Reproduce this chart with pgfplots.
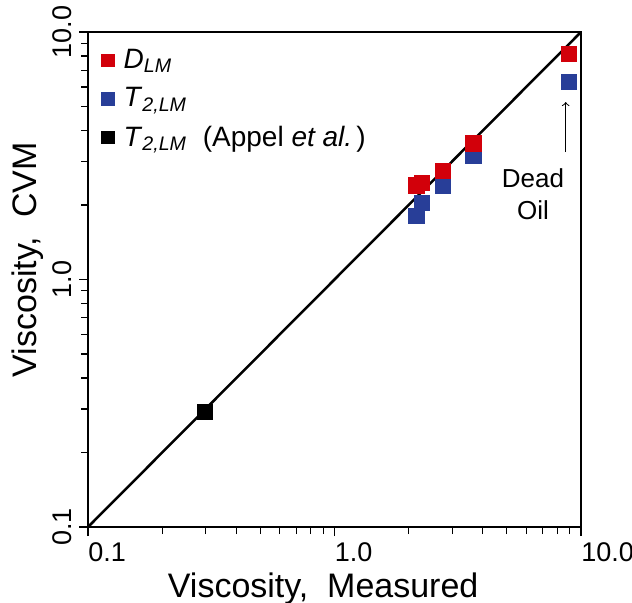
\documentclass[border=0pt]{standalone}
\usepackage{fontspec}
\setmainfont{Liberation Sans}
\usepackage{pgfplots}
\pgfplotsset{compat=1.18}
\definecolor{mred}{RGB}{210,0,10}
\definecolor{mblue}{RGB}{40,62,152}
\pgfplotsset{
  sqleg/.style={legend image code/.code={%
    \draw[##1, mark size=3.2pt] plot coordinates {(0.25cm,0cm)};
    \path (0cm,0cm) (0.45cm,0cm);}},
}
\begin{document}
\begin{tikzpicture}
\begin{axis}[
  xmode=log, ymode=log,
  xmin=0.1, xmax=10, ymin=0.1, ymax=10,
  width=246.5pt, height=247.5pt, scale only axis,
  axis line style={line width=1.1pt},
  xtick={0.1,1,10}, xticklabels={0.1,1.0,10.0},
  ytick={0.1,1,10}, yticklabels={0.1,1.0,10.0},
  xticklabel style={anchor=north west, xshift=-3.3pt},
  yticklabel style={rotate=90, anchor=south},
  tick pos=left, tick align=outside,
  tick style={black, line width=0.6pt},
  major tick length=4.5pt, minor tick length=3.5pt,
  ticklabel style={font=\fontsize{13.5}{16}\selectfont},
  xlabel={Viscosity,\ \ Measured}, ylabel={Viscosity,\ \ CVM},
  label style={font=\fontsize{17}{20}\selectfont},
  xlabel style={at={(axis description cs:0.477,-0.1414)}, anchor=base},
  ylabel style={at={(axis description cs:-0.1035,0.54)}, anchor=base},
  legend style={draw=none, fill=none, at={(axis description cs:0.010,0.982)}, anchor=north west,
    font=\fontsize{14}{17}\selectfont, row sep=4pt, inner xsep=0pt, inner ysep=2pt},
  legend cell align=left,
]
\coordinate (bl) at (rel axis cs:0,0);
\coordinate (tr) at (rel axis cs:1,1);
\addplot[black, line width=1.25pt, forget plot] coordinates {(0.1,0.1) (10,10)};
\addplot[only marks, mark=square*, mark size=3.8pt, mark options={draw=mred, fill=mred}, sqleg]
  coordinates {(2.15,2.40) (2.27,2.46) (2.75,2.75) (3.66,3.55) (8.94,8.15)};
\addlegendentry{\textit{D}\textsubscript{\textit{LM}}}
\addplot[only marks, mark=square*, mark size=3.8pt, mark options={draw=mblue, fill=mblue}, sqleg]
  coordinates {(2.15,1.81) (2.27,2.04) (2.75,2.39) (3.66,3.15) (8.94,6.30)};
\addlegendentry{\textit{T}\textsubscript{\textit{2,LM}}}
\addplot[only marks, mark=square*, mark size=3.8pt, mark options={draw=black, fill=black}, sqleg]
  coordinates {(0.299,0.292)};
\addlegendentry{\textit{T}\textsubscript{\textit{2,LM}}\hspace{4pt} (Appel \textit{et al.}\hspace{2pt})}
\addplot[only marks, mark=square*, mark size=3.8pt, mark options={draw=mred, fill=mred}, forget plot]
  coordinates {(2.15,2.40) (2.27,2.46) (2.75,2.75) (3.66,3.55)};
\draw[->, line width=0.5pt] (axis cs:8.67,3.27) -- (axis cs:8.67,5.21);
\node[align=center, font=\fontsize{13}{16}\selectfont] at (axis cs:6.39,2.21) {Dead\\Oil};
\end{axis}
\pgfresetboundingbox
\path[use as bounding box] ([xshift=-44pt,yshift=-37.5pt]bl) rectangle ([xshift=25.5pt,yshift=16pt]tr);
\end{tikzpicture}
\end{document}
